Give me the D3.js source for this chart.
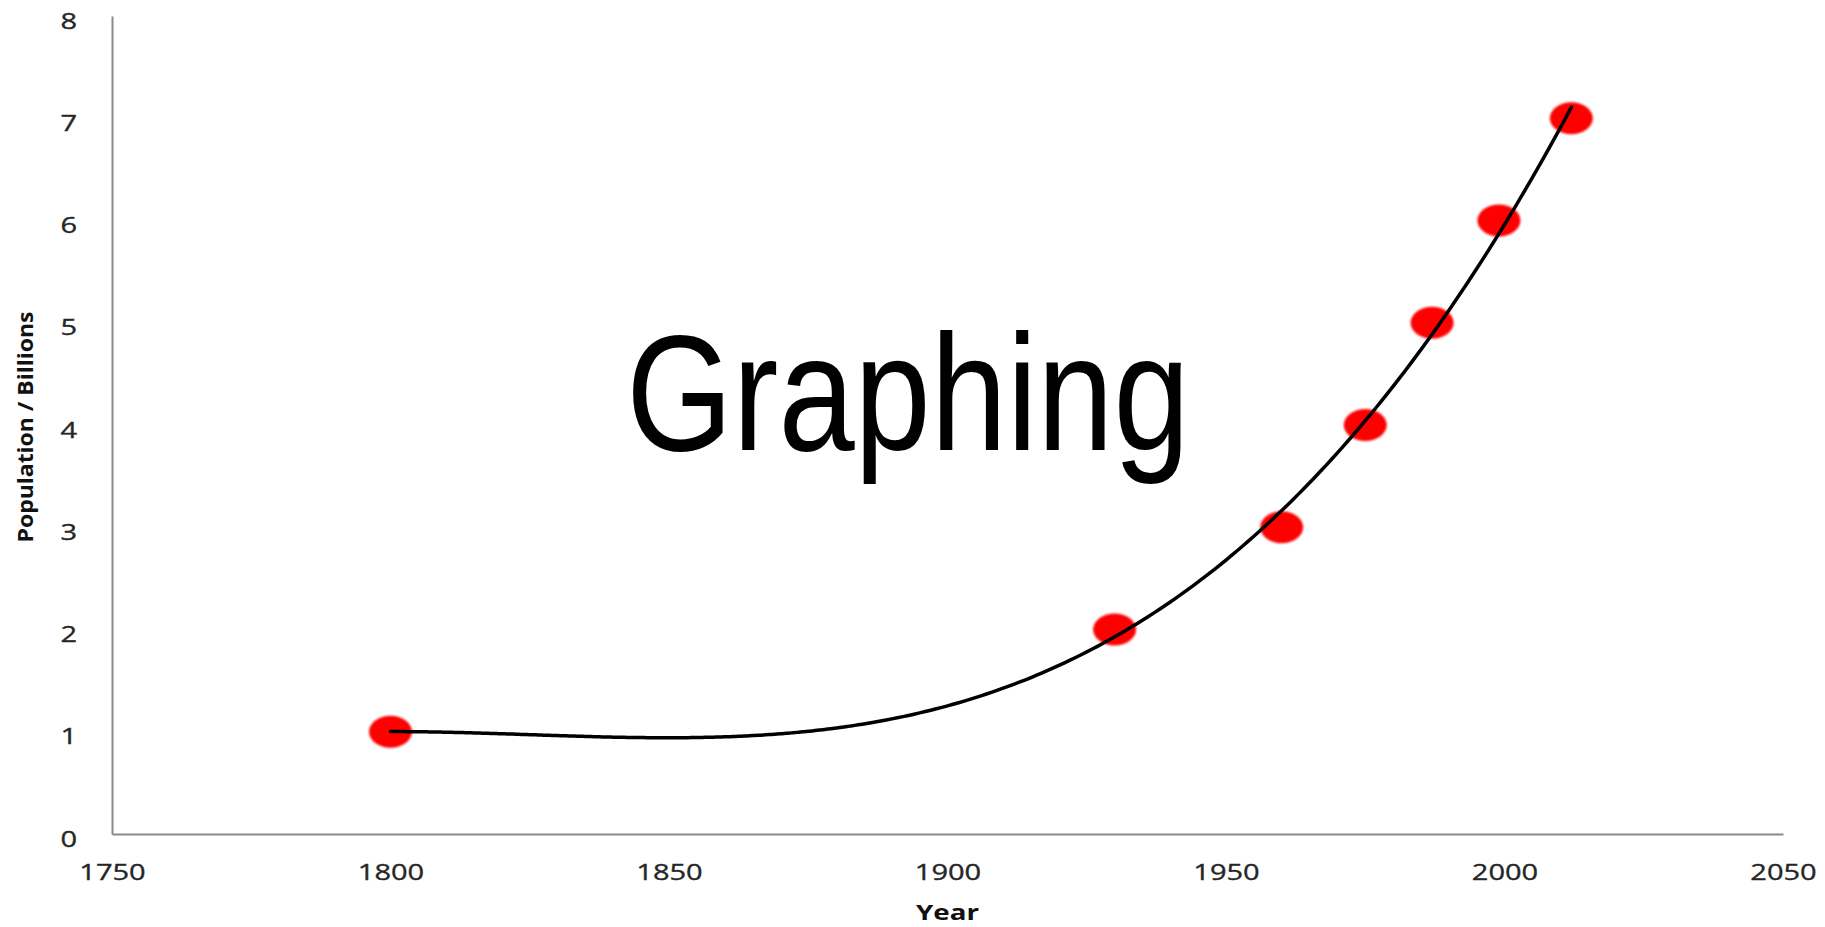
<!DOCTYPE html>
<html>
<head>
<meta charset="utf-8">
<script src="https://cdn.jsdelivr.net/npm/d3@7"></script>
<style>
  html, body { margin: 0; padding: 0; background: #fff; }
  svg { display: block; }
</style>
</head>
<body>
<svg id="chart" width="1825" height="927"></svg>
<script>
// World population milestones (billions) by year
const years = [1800, 1930, 1960, 1975, 1987, 1999, 2012];
const population = [1, 2, 3, 4, 5, 6, 7];
const xTickValues = [1750, 1800, 1850, 1900, 1950, 2000, 2050];
const yTickValues = [0, 1, 2, 3, 4, 5, 6, 7, 8];
const trendOrder = 3;

const svg = d3.select("#chart");

const x = d3.scaleLinear().domain([1750, 2050]).range([112, 1783]);
const y = d3.scaleLinear().domain([0, 8]).range([834, 16]);

const stretch = 1.32;   // wide lettering of the axis text
const axisColor = "#8a8a8a";
const labelColor = "#262626";

// Least-squares polynomial trendline through the data
function polyfit(xs, ys, order) {
  const c = 1900, s = 100;
  const n = order + 1;
  const A = Array.from({length: n}, () => new Array(n + 1).fill(0));
  xs.forEach((xv, k) => {
    const t = (xv - c) / s;
    for (let i = 0; i < n; i++) {
      for (let j = 0; j < n; j++) A[i][j] += Math.pow(t, i + j);
      A[i][n] += ys[k] * Math.pow(t, i);
    }
  });
  for (let i = 0; i < n; i++) {
    let p = i;
    for (let r = i + 1; r < n; r++) if (Math.abs(A[r][i]) > Math.abs(A[p][i])) p = r;
    [A[i], A[p]] = [A[p], A[i]];
    for (let r = 0; r < n; r++) {
      if (r === i) continue;
      const f = A[r][i] / A[i][i];
      for (let k = i; k <= n; k++) A[r][k] -= f * A[i][k];
    }
  }
  const coef = A.map((row, i) => row[n] / row[i]);
  return xv => {
    const t = (xv - c) / s;
    return coef.reduce((acc, a, i) => acc + a * Math.pow(t, i), 0);
  };
}

// Axes: plain grey baselines, no tick marks
const xAxis = d3.axisBottom(x).tickValues(xTickValues).tickSize(0).tickSizeOuter(0).tickFormat(d3.format("d"));
const yAxis = d3.axisLeft(y).tickValues(yTickValues).tickSize(0).tickSizeOuter(0).tickFormat(d3.format("d"));

const gx = svg.append("g").attr("transform", `translate(0,${y(0)})`).call(xAxis);
const gy = svg.append("g").attr("transform", `translate(${x(1750)},0)`).call(yAxis);

[gx, gy].forEach(g => {
  g.select(".domain").attr("stroke", axisColor).attr("stroke-width", 2);
  g.selectAll(".tick line").remove();
  g.selectAll(".tick text")
    .attr("fill", labelColor)
    .attr("stroke", labelColor)
    .attr("stroke-width", 0.35)
    .style("font-family", "'Open Sans', 'DejaVu Sans', sans-serif")
    .style("font-size", "22px");
});

gx.selectAll(".tick text")
  .attr("y", 0).attr("dy", 0)
  .attr("transform", `translate(0,46) scale(${stretch},1)`);

gy.selectAll(".tick text")
  .attr("x", 0).attr("dy", 0)
  .attr("text-anchor", "end")
  .attr("transform", `translate(-35,12) scale(${stretch},1)`);

// Axis titles
svg.append("text")
  .attr("transform", `translate(${(x(1750) + x(2050)) / 2},920) scale(${stretch},1)`)
  .attr("text-anchor", "middle")
  .style("font-family", "'Open Sans', sans-serif")
  .style("font-weight", "bold")
  .style("font-size", "21px")
  .attr("fill", "#111")
  .text("Year");

svg.append("text")
  .attr("transform", `translate(33,${(y(0) + y(8)) / 2 + 2}) rotate(-90)`)
  .attr("text-anchor", "middle")
  .attr("textLength", 231)
  .attr("lengthAdjust", "spacingAndGlyphs")
  .style("font-family", "'Open Sans', sans-serif")
  .style("font-weight", "bold")
  .style("font-size", "21px")
  .attr("fill", "#111")
  .text("Population / Billions");

// Data points
const defs = svg.append("defs");
defs.append("filter").attr("id", "soft")
  .append("feGaussianBlur").attr("stdDeviation", 0.8);

const pts = years.map((yr, i) => ({year: yr, value: population[i]}));

svg.append("g")
  .selectAll("ellipse")
  .data(pts)
  .join("ellipse")
  .attr("cx", d => x(d.year))
  .attr("cy", d => y(d.value))
  .attr("rx", 21.5)
  .attr("ry", 16)
  .attr("fill", "#ff0000")
  .attr("filter", "url(#soft)");

// Trendline over the data range
const fit = polyfit(years, population, trendOrder);
const samples = d3.range(years[0], years[years.length - 1] + 0.01, 1).map(v => [v, fit(v)]);

svg.append("path")
  .datum(samples)
  .attr("fill", "none")
  .attr("stroke", "#000")
  .attr("stroke-width", 3.5)
  .attr("stroke-linecap", "round")
  .attr("d", d3.line().x(d => x(d[0])).y(d => y(d[1])).curve(d3.curveBasis));

// Caption across the plot
svg.append("text")
  .attr("transform", "translate(908,450) scale(0.83,1)")
  .attr("text-anchor", "middle")
  .style("font-family", "'Liberation Sans', Arial, sans-serif")
  .style("font-size", "165px")
  .attr("fill", "#000")
  .text("Graphing");
</script>
</body>
</html>
